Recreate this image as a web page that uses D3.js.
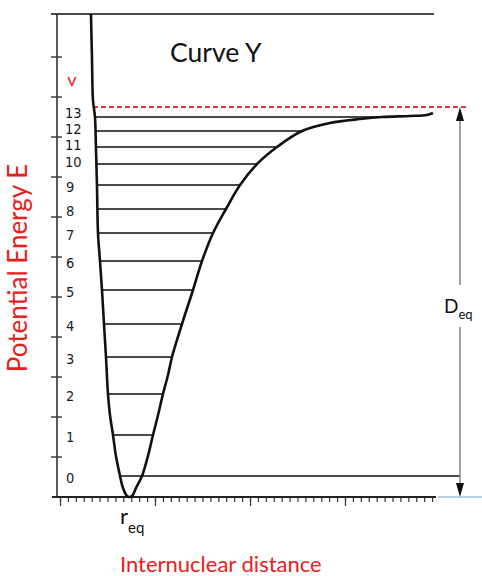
<!DOCTYPE html>
<html><head><meta charset="utf-8">
<script src="https://cdn.jsdelivr.net/npm/d3@7"></script>
<style>html,body{margin:0;padding:0;background:#fff;}svg{display:block;}</style>
</head><body>
<script>
// ---- data (distance in arbitrary units, energy in arbitrary units) ----
const levelNumbers = [0,1,2,3,4,5,6,7,8,9,10,11,12,13];
const levelEnergy  = [0.525,1.55,2.575,3.5,4.325,5.175,5.9,6.6,7.2,7.8,8.325,8.75,9.15,9.5];
const levelRInner  = [0.632,0.558,0.505,0.484,0.463,0.442,0.421,0.40,0.389,0.389,0.379,0.379,0.368,0.368];
const levelROuter  = [4.21,0.968,1.074,1.179,1.284,1.40,1.495,1.611,1.747,1.895,2.074,2.284,2.547,3.40];
const curveR = [0.326,0.337,0.347,0.368,0.379,0.389,0.40,0.421,0.442,0.463,0.484,0.505,0.526,0.558,0.589,0.632,0.663,0.705,0.726,
                0.758,0.80,0.863,0.926,0.979,1.032,1.084,1.137,1.179,1.284,1.40,1.495,1.611,1.747,1.895,2.074,2.284,2.547,2.842,3.158,3.389,3.684,3.863,3.926];
const curveE = [12.075,10.925,9.925,9.5,8.675,7.8,6.6,5.9,5.175,4.325,3.5,2.575,2.05,1.55,1.025,0.525,0.225,0.025,0,
                0.025,0.225,0.525,1.025,1.55,2.05,2.575,3.05,3.5,4.325,5.175,5.9,6.6,7.2,7.8,8.325,8.75,9.15,9.35,9.45,9.5,9.525,9.55,9.6];
const yTickValues = [1,2,3,4,5,6,7,8,9,10,11];
const xMajorTicks = [0,1,2,3];
const xMinorStep = 1/12, xMinorCount = 47;
const dissociationE = 9.75;
const topE = 12.075;
const arrowR = 4.21;

const W = 482, H = 576;
const svg = d3.select("body").append("svg").attr("width", W).attr("height", H);
svg.append("rect").attr("width", W).attr("height", H).attr("fill", "#fff");

const x = d3.scaleLinear().domain([0, 4]).range([60, 440]);
const y = d3.scaleLinear().domain([0, topE]).range([497, 14]);

const gray = "#4a4a4a";
const sans = "Lato, 'Open Sans', sans-serif";

// top line
svg.append("line").attr("x1", 51).attr("x2", 434).attr("y1", y(topE)).attr("y2", y(topE))
  .attr("stroke", gray).attr("stroke-width", 2);

// y axis line + crossing ticks
svg.append("line").attr("x1", 57).attr("x2", 57).attr("y1", y(topE)).attr("y2", y(0))
  .attr("stroke", "#333").attr("stroke-width", 1.6);
svg.selectAll(".yt").data(yTickValues).enter().append("line")
  .attr("x1", 51).attr("x2", 62).attr("y1", d => y(d)).attr("y2", d => y(d))
  .attr("stroke", "#333").attr("stroke-width", 1.4);

// x axis
const minorVals = d3.range(0, xMinorCount + 1).map(i => i * xMinorStep);
const gMinor = svg.append("g").attr("transform", `translate(0,${y(0)})`)
  .call(d3.axisBottom(x).tickValues(minorVals).tickSize(5).tickFormat(""));
const gMajor = svg.append("g").attr("transform", `translate(0,${y(0)})`)
  .call(d3.axisBottom(x).tickValues(xMajorTicks).tickSize(9).tickFormat(""));
[gMinor, gMajor].forEach(g => { g.select(".domain").remove(); g.selectAll("line").attr("stroke", "#333").attr("stroke-width", 1.2); });
svg.append("line").attr("x1", 52).attr("x2", 436).attr("y1", y(0)).attr("y2", y(0))
  .attr("stroke", "#222").attr("stroke-width", 2);
// light blue extension
svg.append("line").attr("x1", 438).attr("x2", 482).attr("y1", y(0)).attr("y2", y(0))
  .attr("stroke", "#9cc3e0").attr("stroke-width", 1.5);

// vibrational levels
const lv = levelNumbers.map((n, i) => ({n, e: levelEnergy[i], r0: levelRInner[i], r1: levelROuter[i]}));
svg.selectAll(".lvl").data(lv).enter().append("line")
  .attr("x1", d => x(d.r0)).attr("x2", d => x(d.r1))
  .attr("y1", d => y(d.e)).attr("y2", d => y(d.e))
  .attr("stroke", gray).attr("stroke-width", 2);
svg.selectAll(".lbl").data(lv).enter().append("text")
  .attr("x", d => d.n >= 10 ? 65 : 66).attr("y", d => y(d.e) + (d.n >= 13 ? -4 : d.n >= 10 ? -2 : 2))
  .attr("dominant-baseline", "central")
  .attr("font-family", "'Liberation Sans Narrow','DejaVu Sans Condensed',sans-serif")
  .attr("font-size", 14.5).attr("fill", "#1a1a1a")
  .text(d => d.n);

// dissociation dashed line
svg.append("line").attr("x1", 93).attr("x2", 466).attr("y1", y(dissociationE)).attr("y2", y(dissociationE))
  .attr("stroke", "#e03a3a").attr("stroke-width", 2).attr("stroke-dasharray", "5,3");

// potential curve
const pts = curveR.map((r, i) => [r, curveE[i]]);
svg.append("path").datum(pts)
  .attr("d", d3.line().x(d => x(d[0])).y(d => y(d[1])).curve(d3.curveCatmullRom))
  .attr("fill", "none").attr("stroke", "#111").attr("stroke-width", 2.6);

// D_eq arrow
const ax = x(arrowR);
svg.append("line").attr("x1", ax).attr("x2", ax).attr("y1", y(dissociationE) + 10).attr("y2", 285)
  .attr("stroke", "#8a8a8a").attr("stroke-width", 1.6);
svg.append("line").attr("x1", ax).attr("x2", ax).attr("y1", 327).attr("y2", y(0) - 10)
  .attr("stroke", "#8a8a8a").attr("stroke-width", 1.6);
svg.append("path").attr("d", `M${ax},${y(dissociationE)} l-4,14 l8,0 z`).attr("fill", "#111");
svg.append("path").attr("d", `M${ax},${y(0)} l-4,-14 l8,0 z`).attr("fill", "#111");
const dt = svg.append("text").attr("x", 444).attr("y", 313)
  .attr("font-family", sans).attr("font-size", 19).attr("fill", "#111");
dt.append("tspan").text("D");
dt.append("tspan").attr("font-size", 13).attr("dy", 6).text("eq");

// r_eq
const rt = svg.append("text").attr("x", 120).attr("y", 524)
  .attr("font-family", sans).attr("font-size", 22).attr("fill", "#111");
rt.append("tspan").text("r");
rt.append("tspan").attr("font-size", 15).attr("dy", 9).text("eq");

// titles
svg.append("text").attr("x", 170).attr("y", 62)
  .attr("font-family", sans).attr("font-size", 26.5).attr("fill", "#111")
  .text("Curve Y");
svg.append("text").attr("x", 72).attr("y", 86).attr("text-anchor", "middle")
  .attr("font-family", sans).attr("font-size", 18).attr("fill", "#e8201c")
  .text("v");
svg.append("text").attr("transform", "translate(27,268) rotate(-90)").attr("text-anchor", "middle")
  .attr("font-family", sans).attr("font-size", 26).attr("fill", "#e8201c")
  .text("Potential Energy E");
svg.append("text").attr("x", 120).attr("y", 572)
  .attr("font-family", sans).attr("font-size", 22).attr("fill", "#e8201c")
  .text("Internuclear distance");
</script>
</body></html>
